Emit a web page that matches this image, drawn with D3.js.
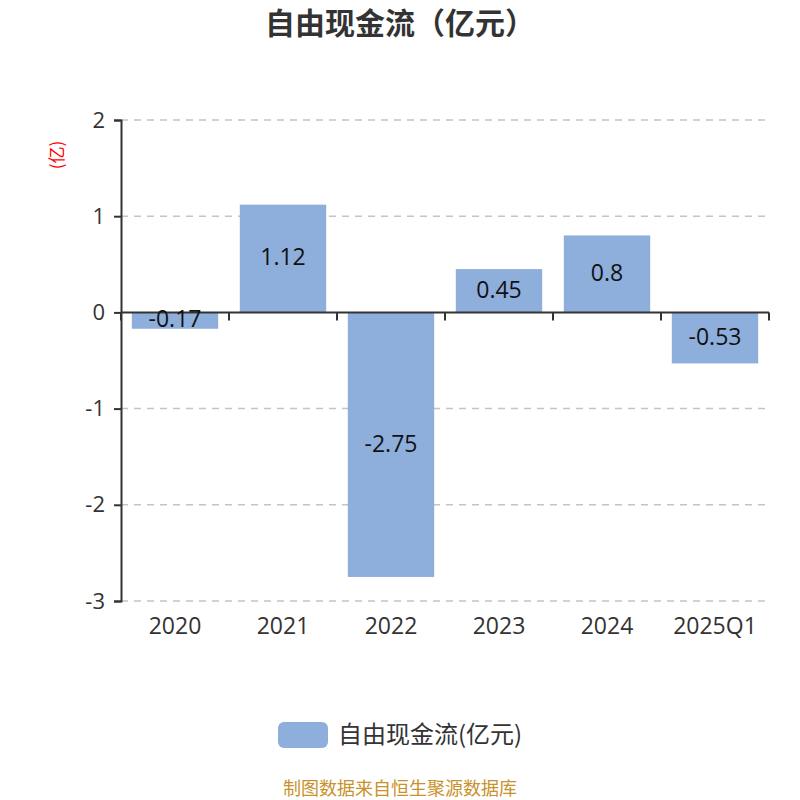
<!DOCTYPE html>
<html lang="zh">
<head>
<meta charset="UTF-8">
<title>自由现金流（亿元）</title>
<script src="https://d3js.org/d3.v7.min.js"></script>
<style>
  body { margin: 0; background: #fff; }
  svg { display: block; font-family: "Noto Sans CJK SC", "Noto Sans", sans-serif; }
</style>
</head>
<body>
<svg width="800" height="800"></svg>
<script>
// 数据
const categories = ["2020", "2021", "2022", "2023", "2024", "2025Q1"];
const values = [-0.17, 1.12, -2.75, 0.45, 0.8, -0.53];
const yTicks = [2, 1, 0, -1, -2, -3];
const seriesName = "自由现金流(亿元)";

const W = 800, H = 800;
const margin = { left: 121, right: 31, top: 120, bottom: 199 };
const barColor = "#8eaedb";
const numFont = "'Open Sans', 'Noto Sans', sans-serif";

const svg = d3.select("svg");

const x = d3.scaleBand()
    .domain(categories)
    .range([margin.left, W - margin.right])
    .paddingInner(0.2)
    .paddingOuter(0.1);
// 类目边界（刻度用）
const xb = d3.scaleBand().domain(categories).range([margin.left, W - margin.right]);

const y = d3.scaleLinear()
    .domain([-3, 2])
    .range([H - margin.bottom, margin.top]);

// 标题
svg.append("text")
    .attr("x", W / 2).attr("y", 34)
    .attr("text-anchor", "middle")
    .attr("font-size", 30).attr("font-weight", "bold")
    .attr("fill", "#333")
    .text("自由现金流（亿元）");

// 网格线
svg.append("g")
    .selectAll("line")
    .data(yTicks.filter(d => d !== 0))
    .join("line")
    .attr("x1", margin.left).attr("x2", W - margin.right)
    .attr("y1", d => y(d)).attr("y2", d => y(d))
    .attr("stroke", "#c4c4c4").attr("stroke-width", 1.5).attr("stroke-dasharray", "7,6");

// 柱子
svg.append("g")
    .selectAll("rect")
    .data(values)
    .join("rect")
    .attr("x", (d, i) => x(categories[i]))
    .attr("width", x.bandwidth())
    .attr("y", d => y(Math.max(0, d)))
    .attr("height", d => Math.abs(y(d) - y(0)))
    .attr("fill", barColor);

// y 轴
const yAxis = svg.append("g")
    .attr("transform", `translate(${margin.left},0)`)
    .call(d3.axisLeft(y).tickValues(yTicks).tickSize(7).tickPadding(9).tickFormat(d => String(d)));
yAxis.select(".domain").attr("stroke", "#333").attr("stroke-width", 2);
yAxis.selectAll(".tick line").attr("stroke", "#333").attr("stroke-width", 2);
yAxis.selectAll(".tick text")
    .attr("font-size", 22).attr("fill", "#333")
    .style("font-family", numFont);

// x 轴（零线）
const xAxisG = svg.append("g")
    .attr("transform", `translate(0,${y(0)})`);
xAxisG.append("line")
    .attr("x1", margin.left).attr("x2", W - margin.right)
    .attr("stroke", "#333").attr("stroke-width", 2);
xAxisG.selectAll("line.tk")
    .data(categories.map(c => xb(c)).concat([W - margin.right]))
    .join("line")
    .attr("class", "tk")
    .attr("x1", d => d).attr("x2", d => d)
    .attr("y1", 0).attr("y2", 8)
    .attr("stroke", "#333").attr("stroke-width", 2);

// 类目标签（底部）
svg.append("g")
    .selectAll("text")
    .data(categories)
    .join("text")
    .attr("x", d => xb(d) + xb.bandwidth() / 2)
    .attr("y", H - margin.bottom + 33)
    .attr("text-anchor", "middle")
    .attr("font-size", 23).attr("fill", "#333")
    .style("font-family", numFont)
    .text(d => d);

// 数值标签
svg.append("g")
    .selectAll("text")
    .data(values)
    .join("text")
    .attr("x", (d, i) => x(categories[i]) + x.bandwidth() / 2)
    .attr("y", d => (y(d) + y(0)) / 2)
    .attr("dy", "0.3em")
    .attr("text-anchor", "middle")
    .attr("font-size", 23).attr("fill", "#111")
    .style("font-family", numFont)
    .text(d => String(d));

// y 轴单位
svg.append("text")
    .attr("transform", "translate(63,155) rotate(-90)")
    .attr("text-anchor", "middle")
    .attr("font-size", 17).attr("fill", "red")
    .text("(亿)");

// 图例
const lg = svg.append("g");
lg.append("rect")
    .attr("x", 278).attr("y", 722).attr("width", 50).attr("height", 26)
    .attr("rx", 6).attr("fill", barColor);
lg.append("text")
    .attr("x", 338).attr("y", 743)
    .attr("font-size", 24).attr("fill", "#333")
    .text(seriesName);

// 来源
svg.append("text")
    .attr("x", W / 2).attr("y", 795)
    .attr("text-anchor", "middle")
    .attr("font-size", 18).attr("fill", "#c8922a")
    .text("制图数据来自恒生聚源数据库");
</script>
</body>
</html>
